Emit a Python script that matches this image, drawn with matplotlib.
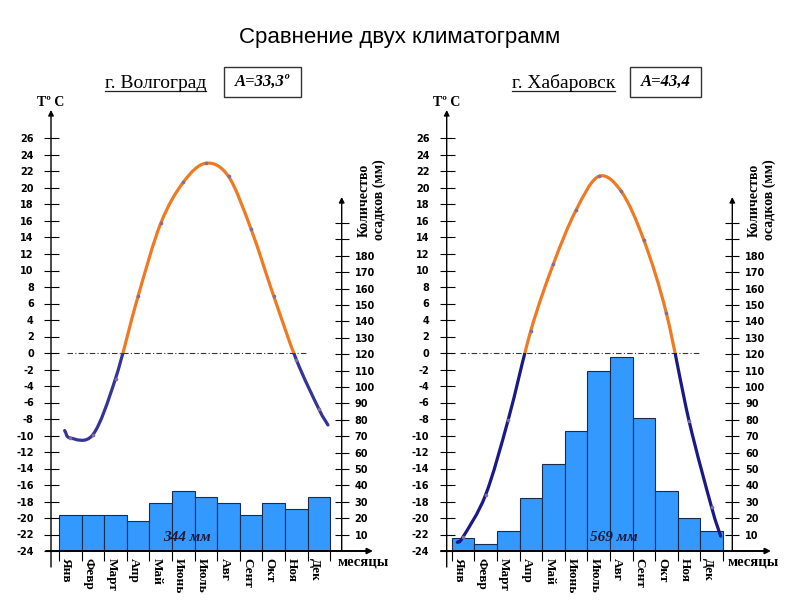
import numpy as np
import matplotlib
matplotlib.use('Agg')
from matplotlib import pyplot as plt
from matplotlib.path import Path
from matplotlib.patches import PathPatch, Rectangle
from matplotlib.lines import Line2D

plt.rcParams['axes.unicode_minus'] = False

# ------------------------- #
# Data
months = ['Янв', 'Февр', 'Март', 'Апр', 'Май', 'Июнь', 'Июль', 'Авг', 'Сент', 'Окт', 'Ноя', 'Дек']

temp_volgograd = [-10.3, -9.9, -3.1, 6.9, 15.7, 20.7, 23.0, 21.4, 15.0, 6.9, -0.8, -6.8]
prec_volgograd = [22, 22, 22, 18, 29.5, 36.5, 33, 29.5, 22, 29.5, 25.5, 33]

temp_khabarovsk = [-22.3, -17.2, -8.1, 2.7, 10.8, 17.3, 21.4, 19.6, 13.7, 4.8, -8.2, -18.7]
prec_khabarovsk = [8, 4, 12, 32.5, 53, 73, 110, 118, 81, 36.5, 20, 12]

temp_ticks = list(range(-24, 27, 2))
prec_ticks = list(range(10, 201, 10))
prec_labels = [str(v) if v <= 180 else '' for v in prec_ticks]

# ------------------------- #
W, H = 800, 600
UNIT = 22.6          # px per month
TPX = 8.25           # px per degree
PPX = 1.64           # px per mm
TOP, BASE = 110, 551 # px

ORANGE = '#f07a22'
BAR = '#3399ff'
SERIF = 'Liberation Serif'


def smooth_path(xs, ys):
    pts = np.column_stack([xs, ys])
    ext = np.vstack([2 * pts[0] - pts[1], pts, 2 * pts[-1] - pts[-2]])
    verts, codes = [pts[0]], [Path.MOVETO]
    for i in range(1, len(ext) - 2):
        p0, p1, p2, p3 = ext[i - 1], ext[i], ext[i + 1], ext[i + 2]
        verts += [p1 + (p2 - p0) / 6, p2 - (p3 - p1) / 6, p2]
        codes += [Path.CURVE4] * 3
    return Path(verts, codes)


def draw_panel(fig, temps, precs, cold, axis_px, bar_px, prec_px, xstart_px, arrow_px, total):
    px2x = lambda p: -0.5 + (p - bar_px) / UNIT
    ax_p = fig.add_axes([axis_px / W, (H - BASE) / H, (prec_px - axis_px) / W, (BASE - TOP) / H])
    ax_t = ax_p.twinx()
    xmin, xmax = px2x(axis_px), px2x(prec_px)
    for a in (ax_p, ax_t):
        a.set_xlim(xmin, xmax)
        for s in a.spines.values():
            s.set_visible(False)
    ax_p.set_ylim(0, (BASE - TOP) / PPX)
    ax_t.set_ylim(-24, -24 + (BASE - TOP) / TPX)

    x = np.arange(12)
    ax_p.bar(x, precs, width=1, color=BAR, edgecolor='#1c2b4a', linewidth=0.8, zorder=2)

    # precipitation axis (right)
    ax_p.yaxis.tick_right()
    ax_p.set_yticks(prec_ticks)
    ax_p.set_yticklabels(prec_labels)
    ax_p.tick_params(axis='y', direction='inout', length=9.5, width=0.8, pad=4.5,
                     labelsize=7)
    for lb in ax_p.get_yticklabels():
        lb.set_fontweight('bold')
    ax_p.set_xticks(np.arange(-0.5, 12, 1))
    ax_p.set_xticklabels([])
    ax_p.tick_params(axis='x', direction='out', length=7, width=0.8)

    # temperature axis (left)
    ax_t.yaxis.tick_left()
    ax_t.set_yticks(temp_ticks)
    ax_t.set_yticklabels([str(v) for v in temp_ticks])
    ax_t.tick_params(axis='y', direction='inout', length=10.8, width=0.8, pad=7,
                     labelsize=7)
    for lb in ax_t.get_yticklabels():
        lb.set_fontweight('bold')

    arrow = dict(arrowstyle='-|>', color='black', lw=1, shrinkA=0, shrinkB=0, mutation_scale=8)
    ax_t.annotate('', xy=(xmin, ax_t.get_ylim()[1]), xytext=(xmin, -24 - 16 / TPX),
                  arrowprops=arrow, annotation_clip=False)
    ax_p.annotate('', xy=(xmax, (BASE - 197) / PPX), xytext=(xmax, 0),
                  arrowprops=arrow, annotation_clip=False)
    ax_p.annotate('', xy=(px2x(arrow_px), 0), xytext=(px2x(xstart_px), 0),
                  arrowprops=dict(arrow, lw=1.4), annotation_clip=False)

    # zero line
    ax_t.plot([-0.15, 10.5], [0, 0], color='#333333', lw=0.8, dashes=(5, 2, 1, 2), zorder=3)

    # smooth temperature curve, orange above zero, blue below
    t = np.array(temps)
    s0 = t[0] - 0.25 * (t[1] - t[0]) + 0.25 * 1.25 / 2 * (t[2] - 2 * t[1] + t[0])
    e = 0.4
    s1 = t[-1] + e * (t[-1] - t[-2]) + e * (e + 1) / 2 * (t[-1] - 2 * t[-2] + t[-3])
    path = smooth_path([-0.25] + list(x) + [11 + e], [s0] + list(t) + [s1])
    for col, y0, hgt in ((ORANGE, 0, 60), (cold, -40, 40)):
        pp = PathPatch(path, facecolor='none', edgecolor=col, lw=2.3,
                       transform=ax_t.transData, zorder=4, capstyle='round')
        clip = Rectangle((xmin - 2, y0), xmax - xmin + 4, hgt, transform=ax_t.transData)
        ax_t.add_patch(pp)
        pp.set_clip_path(clip)
    ax_t.scatter(x, temps, s=7, color='#7f6f9a', zorder=5, linewidths=0)

    # month labels
    for i, m in enumerate(months):
        ax_t.text(i - 0.5 + 0.32, -24 - 7 / TPX, m, rotation=270, ha='center', va='top',
                  family=SERIF, fontweight='bold', fontsize=9.5, clip_on=False)
    ax_t.text(px2x(prec_px) - 0.2, -24 - 11 / TPX, 'месяцы', ha='left', va='center',
              family=SERIF, fontweight='bold', fontsize=10.5, clip_on=False)
    ax_t.text(xmin, -24 + (BASE - 103) / TPX, 'Тº С', ha='center', va='center',
              family=SERIF, fontweight='bold', fontsize=10, clip_on=False)
    ax_t.text(px2x(prec_px + 30), -24 + (BASE - 200) / TPX, 'Количество\nосадков (мм)',
              rotation=90, ha='center', va='center', family=SERIF, fontweight='bold',
              fontsize=10, linespacing=1.15, clip_on=False)
    ax_t.text(px2x(total[1]), -22.4, total[0], ha='center', va='center', family=SERIF,
              fontweight='bold', style='italic', fontsize=11, color='#1a1a3a', zorder=6)


fig = plt.figure(figsize=(8, 6), dpi=100)

draw_panel(fig, temp_volgograd, prec_volgograd, '#343499', 51, 59, 341.7, 46, 373, ('344 мм', 187))
draw_panel(fig, temp_khabarovsk, prec_khabarovsk, '#1a1a86', 446.7, 451.7, 732.3, 441, 771, ('569 мм', 614))

fig.text(0.5, 1 - 38 / H, 'Сравнение двух климатограмм', ha='center', va='center',
         family='Liberation Sans', fontsize=16)

titles = []
for name, x0, amp, bx0, bx1 in (('г. Волгоград', 105, 'А=33,3º', 224, 301),
                                ('г. Хабаровск', 511.7, 'А=43,4', 630, 701)):
    tt = fig.text(x0 / W, 1 - 88 / H, name, ha='left', va='baseline', family=SERIF, fontsize=14)
    titles.append(tt)
    fig.add_artist(Rectangle((bx0 / W, 1 - 97 / H), (bx1 - bx0) / W, 30 / H,
                             transform=fig.transFigure, facecolor='white',
                             edgecolor='#333333', lw=1))
    fig.text((bx0 + bx1) / 2 / W, 1 - 82 / H, amp, ha='center', va='center', family=SERIF,
             fontweight='bold', style='italic', fontsize=12)

fig.canvas.draw()
r = fig.canvas.get_renderer()
for tt in titles:
    bb = tt.get_window_extent(r)
    yy = 1 - 91 / H
    fig.add_artist(Line2D([bb.x0 / W, bb.x1 / W], [yy, yy], transform=fig.transFigure,
                          color='#222222', lw=0.9))

fig.savefig('out.png', dpi=100)
